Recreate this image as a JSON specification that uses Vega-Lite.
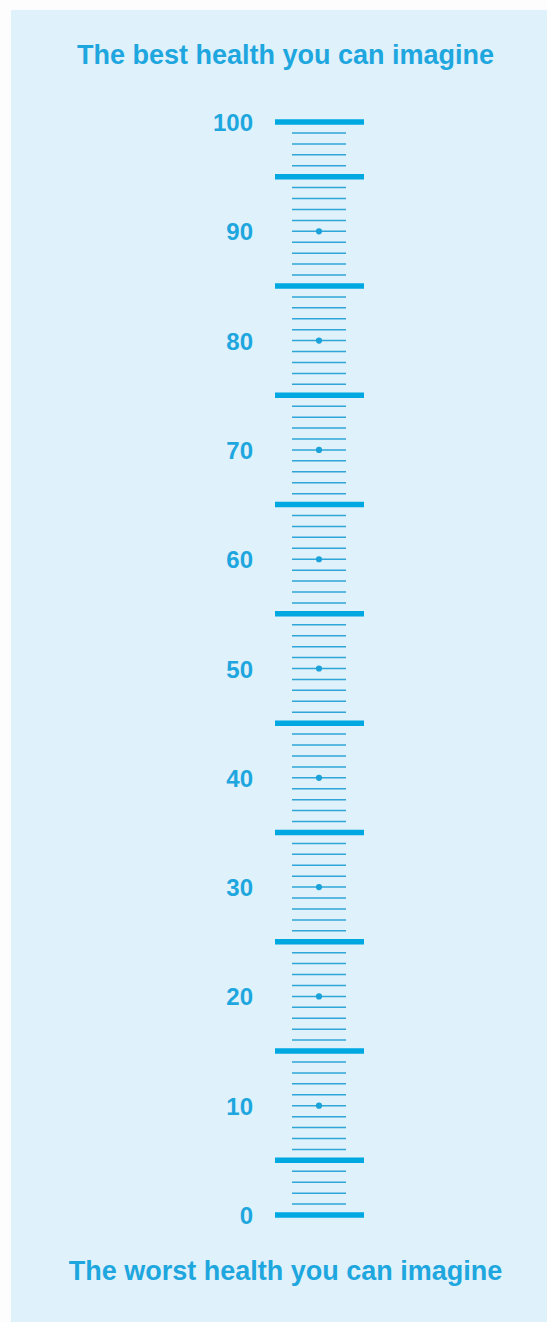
{
  "$schema": "https://vega.github.io/schema/vega-lite/v6.json",
  "autosize": {"type": "none"},
  "width": 536,
  "height": 1312,
  "padding": {"left": 11, "top": 10, "right": 0, "bottom": 0},
  "background": "#fdfdfd",
  "config": {"view": {"stroke": null, "fill": "#dff1fa"}},
  "datasets": {
    "scale": [
      {"value": 0, "kind": "thick", "dot": false},
      {"value": 1, "kind": "thin", "dot": false},
      {"value": 2, "kind": "thin", "dot": false},
      {"value": 3, "kind": "thin", "dot": false},
      {"value": 4, "kind": "thin", "dot": false},
      {"value": 5, "kind": "thick", "dot": false},
      {"value": 6, "kind": "thin", "dot": false},
      {"value": 7, "kind": "thin", "dot": false},
      {"value": 8, "kind": "thin", "dot": false},
      {"value": 9, "kind": "thin", "dot": false},
      {"value": 10, "kind": "thin", "dot": true},
      {"value": 11, "kind": "thin", "dot": false},
      {"value": 12, "kind": "thin", "dot": false},
      {"value": 13, "kind": "thin", "dot": false},
      {"value": 14, "kind": "thin", "dot": false},
      {"value": 15, "kind": "thick", "dot": false},
      {"value": 16, "kind": "thin", "dot": false},
      {"value": 17, "kind": "thin", "dot": false},
      {"value": 18, "kind": "thin", "dot": false},
      {"value": 19, "kind": "thin", "dot": false},
      {"value": 20, "kind": "thin", "dot": true},
      {"value": 21, "kind": "thin", "dot": false},
      {"value": 22, "kind": "thin", "dot": false},
      {"value": 23, "kind": "thin", "dot": false},
      {"value": 24, "kind": "thin", "dot": false},
      {"value": 25, "kind": "thick", "dot": false},
      {"value": 26, "kind": "thin", "dot": false},
      {"value": 27, "kind": "thin", "dot": false},
      {"value": 28, "kind": "thin", "dot": false},
      {"value": 29, "kind": "thin", "dot": false},
      {"value": 30, "kind": "thin", "dot": true},
      {"value": 31, "kind": "thin", "dot": false},
      {"value": 32, "kind": "thin", "dot": false},
      {"value": 33, "kind": "thin", "dot": false},
      {"value": 34, "kind": "thin", "dot": false},
      {"value": 35, "kind": "thick", "dot": false},
      {"value": 36, "kind": "thin", "dot": false},
      {"value": 37, "kind": "thin", "dot": false},
      {"value": 38, "kind": "thin", "dot": false},
      {"value": 39, "kind": "thin", "dot": false},
      {"value": 40, "kind": "thin", "dot": true},
      {"value": 41, "kind": "thin", "dot": false},
      {"value": 42, "kind": "thin", "dot": false},
      {"value": 43, "kind": "thin", "dot": false},
      {"value": 44, "kind": "thin", "dot": false},
      {"value": 45, "kind": "thick", "dot": false},
      {"value": 46, "kind": "thin", "dot": false},
      {"value": 47, "kind": "thin", "dot": false},
      {"value": 48, "kind": "thin", "dot": false},
      {"value": 49, "kind": "thin", "dot": false},
      {"value": 50, "kind": "thin", "dot": true},
      {"value": 51, "kind": "thin", "dot": false},
      {"value": 52, "kind": "thin", "dot": false},
      {"value": 53, "kind": "thin", "dot": false},
      {"value": 54, "kind": "thin", "dot": false},
      {"value": 55, "kind": "thick", "dot": false},
      {"value": 56, "kind": "thin", "dot": false},
      {"value": 57, "kind": "thin", "dot": false},
      {"value": 58, "kind": "thin", "dot": false},
      {"value": 59, "kind": "thin", "dot": false},
      {"value": 60, "kind": "thin", "dot": true},
      {"value": 61, "kind": "thin", "dot": false},
      {"value": 62, "kind": "thin", "dot": false},
      {"value": 63, "kind": "thin", "dot": false},
      {"value": 64, "kind": "thin", "dot": false},
      {"value": 65, "kind": "thick", "dot": false},
      {"value": 66, "kind": "thin", "dot": false},
      {"value": 67, "kind": "thin", "dot": false},
      {"value": 68, "kind": "thin", "dot": false},
      {"value": 69, "kind": "thin", "dot": false},
      {"value": 70, "kind": "thin", "dot": true},
      {"value": 71, "kind": "thin", "dot": false},
      {"value": 72, "kind": "thin", "dot": false},
      {"value": 73, "kind": "thin", "dot": false},
      {"value": 74, "kind": "thin", "dot": false},
      {"value": 75, "kind": "thick", "dot": false},
      {"value": 76, "kind": "thin", "dot": false},
      {"value": 77, "kind": "thin", "dot": false},
      {"value": 78, "kind": "thin", "dot": false},
      {"value": 79, "kind": "thin", "dot": false},
      {"value": 80, "kind": "thin", "dot": true},
      {"value": 81, "kind": "thin", "dot": false},
      {"value": 82, "kind": "thin", "dot": false},
      {"value": 83, "kind": "thin", "dot": false},
      {"value": 84, "kind": "thin", "dot": false},
      {"value": 85, "kind": "thick", "dot": false},
      {"value": 86, "kind": "thin", "dot": false},
      {"value": 87, "kind": "thin", "dot": false},
      {"value": 88, "kind": "thin", "dot": false},
      {"value": 89, "kind": "thin", "dot": false},
      {"value": 90, "kind": "thin", "dot": true},
      {"value": 91, "kind": "thin", "dot": false},
      {"value": 92, "kind": "thin", "dot": false},
      {"value": 93, "kind": "thin", "dot": false},
      {"value": 94, "kind": "thin", "dot": false},
      {"value": 95, "kind": "thick", "dot": false},
      {"value": 96, "kind": "thin", "dot": false},
      {"value": 97, "kind": "thin", "dot": false},
      {"value": 98, "kind": "thin", "dot": false},
      {"value": 99, "kind": "thin", "dot": false},
      {"value": 100, "kind": "thick", "dot": false}
    ],
    "labels": [
      {"value": 0, "label": "0"},
      {"value": 10, "label": "10"},
      {"value": 20, "label": "20"},
      {"value": 30, "label": "30"},
      {"value": 40, "label": "40"},
      {"value": 50, "label": "50"},
      {"value": 60, "label": "60"},
      {"value": 70, "label": "70"},
      {"value": 80, "label": "80"},
      {"value": 90, "label": "90"},
      {"value": 100, "label": "100"}
    ],
    "ends": [
      {"value": 105.3, "text": "The best health you can imagine"},
      {"value": -5.95, "text": "The worst health you can imagine"}
    ]
  },
  "layer": [
    {
      "data": {"name": "scale"},
      "transform": [{"filter": "datum.kind === 'thin'"}],
      "mark": {"type": "tick", "orient": "horizontal", "size": 54, "thickness": 1.5, "color": "#2ea6d8", "opacity": 1},
      "encoding": {
        "x": {"datum": 308, "type": "quantitative", "scale": {"domain": [0, 536], "nice": false, "zero": false}, "axis": null},
        "y": {"field": "value", "type": "quantitative", "scale": {"domain": [-9.79, 110.25], "nice": false, "zero": false}, "axis": null}
      }
    },
    {
      "data": {"name": "scale"},
      "transform": [{"filter": "datum.kind === 'thick'"}],
      "mark": {"type": "tick", "orient": "horizontal", "size": 89, "thickness": 5.5, "color": "#00a8e2", "opacity": 1},
      "encoding": {
        "x": {"datum": 308.5, "type": "quantitative"},
        "y": {"field": "value", "type": "quantitative"}
      }
    },
    {
      "data": {"name": "scale"},
      "transform": [{"filter": "datum.dot"}],
      "mark": {"type": "circle", "size": 38, "color": "#1aa2da", "opacity": 1},
      "encoding": {
        "x": {"datum": 308, "type": "quantitative"},
        "y": {"field": "value", "type": "quantitative"}
      }
    },
    {
      "data": {"name": "labels"},
      "mark": {"type": "text", "align": "right", "baseline": "middle", "dy": 2, "font": "Liberation Sans", "fontWeight": "bold", "fontSize": 24, "color": "#1ea6df"},
      "encoding": {
        "x": {"datum": 242, "type": "quantitative"},
        "y": {"field": "value", "type": "quantitative"},
        "text": {"field": "label"}
      }
    },
    {
      "data": {"name": "ends"},
      "mark": {"type": "text", "align": "center", "baseline": "alphabetic", "font": "Liberation Sans", "fontWeight": "bold", "fontSize": 27, "color": "#1ea6df"},
      "encoding": {
        "x": {"datum": 274.5, "type": "quantitative"},
        "y": {"field": "value", "type": "quantitative"},
        "text": {"field": "text"}
      }
    }
  ]
}
